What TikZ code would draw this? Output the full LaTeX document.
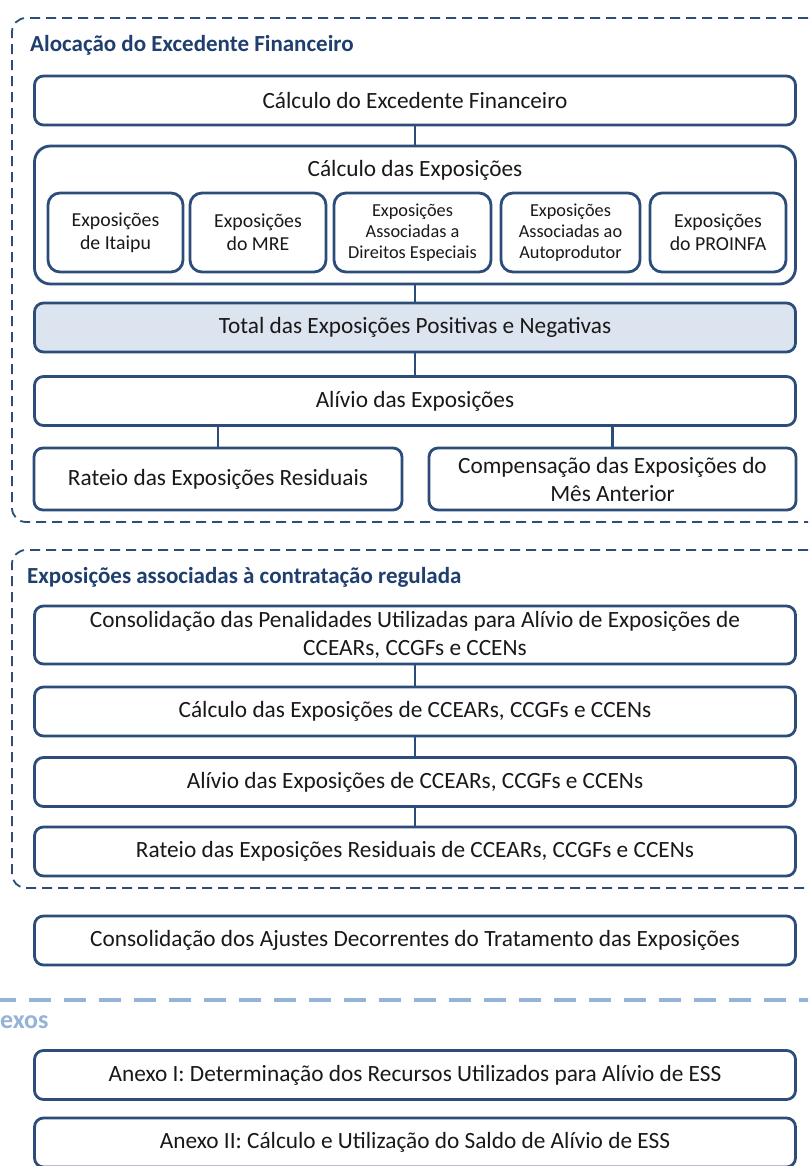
\documentclass[tikz,border=0pt]{standalone}
\usepackage{fontspec}
\setmainfont{Carlito}
\usepackage{tikz}

\definecolor{boxblue}{RGB}{44,77,122}
\definecolor{titleblue}{RGB}{31,63,110}
\definecolor{totfill}{RGB}{220,228,239}
\definecolor{paleblue}{RGB}{149,179,215}
\definecolor{txtgray}{RGB}{25,25,25}

\newcommand{\fs}[1]{\fontsize{#1}{#1}\selectfont}

\begin{document}
\begin{tikzpicture}[x=1pt,y=-1pt]
    \tikzset{
      procbox/.style={draw=boxblue, line width=2.8pt, rounded corners=9pt, fill=white,
        text=txtgray, align=center, inner sep=0pt, minimum width=761pt, minimum height=49pt,
        font=\fs{23.3}, execute at begin node=\setlength{\baselineskip}{28pt}},
      subbox/.style={procbox, rounded corners=12pt, minimum height=79pt, font=\fs{19.8},
        execute at begin node=\setlength{\baselineskip}{23pt}},
      smallbox/.style={subbox, font=\fs{18.3}, execute at begin node=\setlength{\baselineskip}{21pt}},
      grpline/.style={draw=boxblue, line width=1.8pt, dash pattern=on 10pt off 6pt, rounded corners=14pt},
      grptitle/.style={anchor=west, inner sep=0pt, text=titleblue, font=\bfseries\fs{23}},
      link/.style={draw=boxblue, line width=2.8pt}
    }
    \useasboundingbox (0,0) rectangle (808,1166);
    \clip (0,0) rectangle (808,1166);
    \fill [white] (0,0) rectangle (808,1166);
    % first group
    \draw [grpline] (840,18) -- (12,18) -- (12,522) -- (840,522);
    \node [grptitle] (alocT) at (30,45) {Alocação do Excedente Financeiro};
    \node [procbox] (excedente) at (415,100.5) {Cálculo do Excedente Financeiro};
    \node [procbox, rounded corners=16pt, minimum height=138pt] (expo) at (415,215) {};
    \node [inner sep=0pt, text=txtgray, font=\fs{23.3}] (expoT) at (415,170) {Cálculo das Exposições};
    \node [subbox, minimum width=135pt] (itaipu) at (115.5,232.5) {Exposições\\de Itaipu};
    \node [subbox, minimum width=136pt] (mre) at (258,232.5) {Exposições\\do MRE};
    \node [smallbox, minimum width=157pt] (direitos) at (412.5,232.5) {Exposições\\Associadas a\\Direitos Especiais};
    \node [smallbox, minimum width=139pt] (autoprod) at (570.5,232.5) {Exposições\\Associadas ao\\Autoprodutor};
    \node [subbox, minimum width=136pt] (proinfa) at (718,232.5) {Exposições\\do PROINFA};
    \node [procbox, fill=totfill] (total) at (415,327.5) {Total das Exposições Positivas e Negativas};
    \node [procbox] (alivio) at (415,401) {Alívio das Exposições};
    \node [procbox, minimum width=368pt, minimum height=62pt] (rateio) at (218,479) {Rateio das Exposições Residuais};
    \node [procbox, minimum width=367pt, minimum height=62pt] (compens) at (612.5,479) {Compensação das Exposições do\\Mês Anterior};
    \draw [link] (excedente) -- (expo);
    \draw [link] (expo) -- (total);
    \draw [link] (total) -- (alivio);
    \draw [link] (rateio.north) -- (rateio.north |- alivio.south);
    \draw [link] (compens.north) -- (compens.north |- alivio.south);
    % second group
    \draw [grpline] (840,550) -- (12,550) -- (12,888) -- (840,888);
    \node [grptitle] (regT) at (27,577) {Exposições associadas à contratação regulada};
    \node [procbox, minimum height=58pt] (penal) at (415,635) {Consolidação das Penalidades Utilizadas para Alívio de Exposições de\\CCEARs, CCGFs e CCENs};
    \node [procbox] (calcC) at (415,711.5) {Cálculo das Exposições de CCEARs, CCGFs e CCENs};
    \node [procbox] (alivC) at (415,782) {Alívio das Exposições de CCEARs, CCGFs e CCENs};
    \node [procbox] (ratC) at (415,851.5) {Rateio das Exposições Residuais de CCEARs, CCGFs e CCENs};
    \draw [link] (penal) -- (calcC);
    \draw [link] (calcC) -- (alivC);
    \draw [link] (alivC) -- (ratC);
    % outside the groups
    \node [procbox] (ajustes) at (415,940.5) {Consolidação dos Ajustes Decorrentes do Tratamento das Exposições};
    \draw [paleblue, line width=4.5pt, dash pattern=on 22pt off 13pt] (-6,1000) -- (820,1000);
    \node [anchor=west, inner sep=0pt, text=paleblue, font=\bfseries\fs{26}] (anexT) at (0,1022) {exos};
    \node [procbox] (anexo1) at (415,1075) {Anexo I: Determinação dos Recursos Utilizados para Alívio de ESS};
    \node [procbox] (anexo2) at (415,1142.5) {Anexo II: Cálculo e Utilização do Saldo de Alívio de ESS};
\end{tikzpicture}
\end{document}
